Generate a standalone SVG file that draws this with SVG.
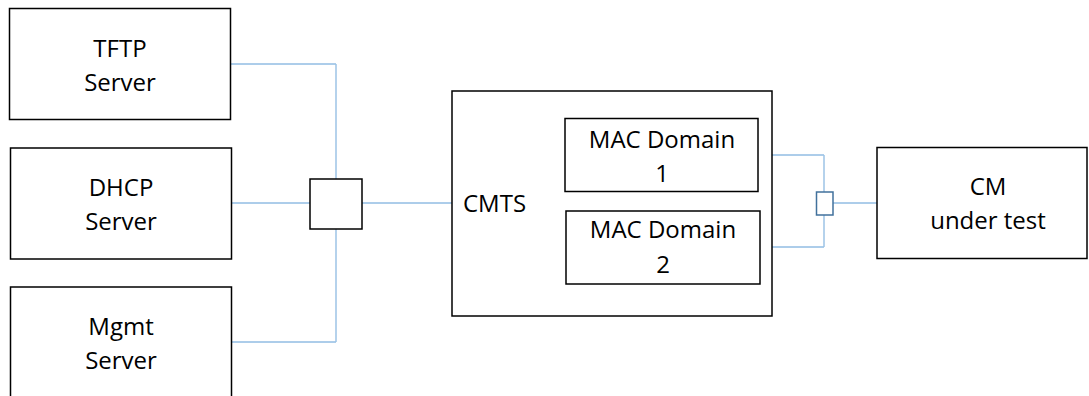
<svg xmlns="http://www.w3.org/2000/svg" width="1089" height="396" viewBox="0 0 1089 396">
<style>
.box{fill:#fff;stroke:#000;stroke-width:1.5}
.t{font-family:"Open Sans","Liberation Sans",sans-serif;font-size:24px;fill:#000;text-anchor:middle}
.c{fill:none;stroke:#5b9bd5;stroke-width:1}
.c2{fill:none;stroke:#9dc3e6;stroke-width:1.5}
</style>
<rect width="1089" height="396" fill="#fff"/>
<g id="connectors">
<path class="c" d="M230 64H336"/>
<path class="c2" d="M336 64V179"/>
<path class="c" d="M231 203H310"/>
<path class="c" d="M362 203H452"/>
<path class="c" d="M231 342H336"/>
<path class="c2" d="M336 342V229"/>
<path class="c" d="M758 155H824"/>
<path class="c2" d="M824 155V192"/>
<path class="c" d="M760 247H824"/>
<path class="c2" d="M824 247V215"/>
<path class="c" d="M833 203H877"/>
</g>
<g id="tftp"><rect class="box" x="9.5" y="8.5" width="221" height="111"/><text class="t" x="120" y="57">TFTP</text><text class="t" x="120" y="91">Server</text></g>
<g id="dhcp"><rect class="box" x="10.5" y="148" width="221" height="111"/><text class="t" x="121" y="196">DHCP</text><text class="t" x="121" y="230">Server</text></g>
<g id="mgmt"><rect class="box" x="10.5" y="287" width="221" height="120"/><text class="t" x="121" y="335">Mgmt</text><text class="t" x="121" y="369">Server</text></g>
<g id="switch"><rect class="box" x="310" y="179" width="52" height="50"/></g>
<g id="cmts"><rect class="box" x="452" y="91" width="320" height="225"/><text class="t" x="463" y="212" style="text-anchor:start">CMTS</text></g>
<g id="mac1"><rect class="box" x="565" y="118.5" width="193" height="73"/><text class="t" x="662" y="148">MAC Domain</text><text class="t" x="662" y="182">1</text></g>
<g id="mac2"><rect class="box" x="566" y="211" width="194" height="73"/><text class="t" x="663" y="238">MAC Domain</text><text class="t" x="663" y="273">2</text></g>
<g id="splitter"><rect x="816.5" y="192" width="16.5" height="23" fill="#fff" stroke="#41719c" stroke-width="1.5"/></g>
<g id="cm"><rect class="box" x="877" y="147.5" width="210" height="111"/><text class="t" x="988" y="195">CM</text><text class="t" x="988" y="229">under test</text></g>
</svg>
